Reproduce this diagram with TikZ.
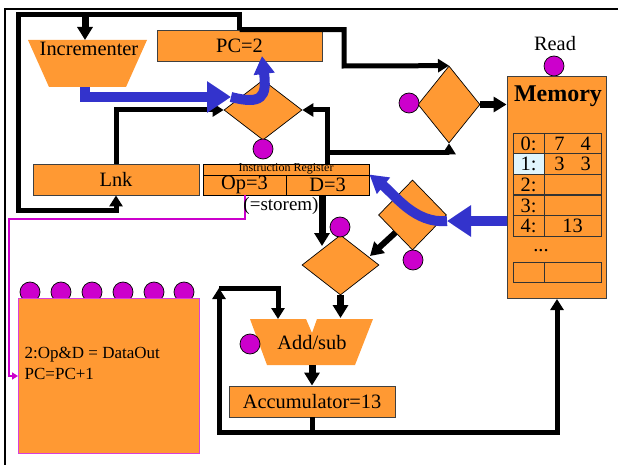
\documentclass[tikz,border=0pt]{standalone}
\usepackage{fontspec}
\setmainfont{Liberation Serif}
\usetikzlibrary{arrows.meta, shapes.geometric}

\definecolor{boxorange}{HTML}{FF9933}
\definecolor{ctrlpurple}{HTML}{CC00CC}
\definecolor{flowblue}{HTML}{3333CC}

\tikzset{
    box/.style={rectangle, draw=black!75, fill=boxorange, line width=0.9pt, inner sep=0pt},
    memcell/.style={rectangle, draw=black!80, line width=0.9pt, inner sep=0pt, minimum height=20.5pt},
    mux/.style={diamond, draw=black, fill=boxorange, line width=0.7pt, inner sep=0pt},
    ctrl/.style={circle, draw=black, fill=ctrlpurple, line width=0.7pt, inner sep=0pt, minimum size=20pt},
    wire/.style={line width=5pt, -{Triangle[width=13pt,length=11pt]}},
    plainwire/.style={line width=5pt},
    fatwire/.style={line width=7pt, -{Triangle[width=15pt,length=13pt]}},
    flow/.style={flowblue, line width=10pt, -{Triangle[width=30pt,length=24pt]}},
    bendflow/.style={flowblue, line width=10pt, -{Triangle[width=20pt,length=18pt]}},
}

\begin{document}
\begin{tikzpicture}[x=1pt, y=-1pt, every node/.style={font=\fontsize{20.4}{22}\selectfont}]
    \useasboundingbox (0,0) rectangle (618,465);

    % frame
    \draw[line width=2.2pt] (5,465) -- (5,9) -- (618,9);

    % Incrementer and PC
    \fill[boxorange] (28,40) -- (147,40) -- (126,87) -- (49,87) -- cycle;
    \node (incrText) at (89,49) {Incrementer};
    \node[box, minimum width=165pt, minimum height=31pt] (pc) at (239.5,45.5) {PC=2};

    % Muxes
    \node[mux, minimum width=78pt, minimum height=60pt] (pcmux) at (263,110) {};
    \node[mux, minimum width=62pt, minimum height=77pt] (memmux) at (449,104.5) {};
    \node[mux, minimum width=77pt, minimum height=60pt] (opmux) at (340.5,265) {};
    \node[mux, minimum width=68pt, minimum height=70pt] (datamux) at (412.5,215) {};

    % Lnk and instruction register
    \node[box, minimum width=166pt, minimum height=31pt] (lnk) at (116,179.5) {Lnk};
    \node[box, draw=black, minimum width=166pt, text height=8pt, text depth=3pt, font=\fontsize{12}{12}\selectfont] (irTitle) at (286,169.5) {Instruction Register};
    \node[box, draw=black, minimum width=83pt, minimum height=20pt] (op) at (244.5,185) {Op=3};
    \node[box, draw=black, minimum width=83pt, minimum height=20pt] (dd) at (327.5,185) {D=3};

    % Memory
    \node[ctrl] (readCtrl) at (554,66) {};
    \node (readText) at (555,44) {Read};
    \node[box, minimum width=99pt, minimum height=222pt] (mem) at (556.5,187) {};
    \node[font=\fontsize{24}{26}\bfseries] (memText) at (558,96) {Memory};
    \node[memcell, minimum width=31pt] (addr0) at (528.5,143.5) {0:};
    \node[memcell, minimum width=57pt] (data0) at (572.5,143.5) {7\hspace{16pt}4};
    \node[memcell, minimum width=31pt, fill=cyan!12] (addr1) at (528.5,164) {1:};
    \node[memcell, minimum width=57pt] (data1) at (572.5,164) {3\hspace{16pt}3};
    \node[memcell, minimum width=31pt] (addr2) at (528.5,184.5) {2:};
    \node[memcell, minimum width=57pt] (data2) at (572.5,184.5) {};
    \node[memcell, minimum width=31pt] (addr3) at (528.5,205.5) {3:};
    \node[memcell, minimum width=57pt] (data3) at (572.5,205.5) {};
    \node[memcell, minimum width=31pt] (addr4) at (528.5,226) {4:};
    \node[memcell, minimum width=57pt] (data4) at (572.5,226) {13};
    \node (dots) at (541,251) {...};
    \node[memcell, minimum width=31pt] (addrN) at (528.5,272.5) {};
    \node[memcell, minimum width=57pt] (dataN) at (572.5,272.5) {};

    % Add/sub
    \fill[boxorange] (250,319) -- (306,319) -- (312,333) -- (317,319) -- (373,319) -- (355,365) -- (267,365) -- cycle;
    \node (addsub) at (312,343) {Add/sub};
    \node[box, minimum width=166pt, minimum height=31pt] (acc) at (312,401.5) {Accumulator=13};

    % Control circles
    \node[ctrl] (pcCtrl) at (263,149) {};
    \node[ctrl] (memCtrl) at (409,103) {};
    \node[ctrl] (opCtrl) at (340,227) {};
    \node[ctrl] (dataCtrl) at (413,260) {};
    \node[ctrl] (addCtrl) at (250,344) {};

    % Control unit
    \node[ctrl] (c1) at (30,292) {};
    \node[ctrl] (c2) at (61,292) {};
    \node[ctrl] (c3) at (92,292) {};
    \node[ctrl] (c4) at (123,292) {};
    \node[ctrl] (c5) at (154,292) {};
    \node[ctrl] (c6) at (184,292) {};
    \node[rectangle, draw=ctrlpurple!75, fill=boxorange, line width=1pt, inner sep=0pt, minimum width=181pt, minimum height=155pt] (ctrlBox) at (108.5,375.5) {};
    \node[anchor=west, align=left, inner sep=0pt, font=\fontsize{17}{21}\selectfont] (ctrlText) at (24.5,363.5) {2:Op\&D = DataOut\\PC=PC+1};

    % Points on the wires
    \coordinate (topLeft) at (18,15);
    \coordinate (lnkCorner) at (116,210);
    \coordinate (incrTap) at (85,15);
    \coordinate (incrIn) at (85,40);
    \coordinate (pcCorner) at (344,66);
    \coordinate (irTap) at (327,164);
    \coordinate (memTap) at (327,153);
    \coordinate (irOut) at (322,195);
    \coordinate (opIn) at (322,246);
    \coordinate (dataOut) at (370,256);
    \coordinate (addIn) at (340.5,318);
    \coordinate (addOut) at (312,365);
    \coordinate (addLoop) at (278,319);
    \coordinate (accTap) at (312,432);
    \coordinate (loopCorner) at (219,288);
    \coordinate (memIn) at (557,299);
    \coordinate (ctrlCorner) at (9,219);
    \coordinate (ctrlIn) at (18,376);

    % Black wires
    \draw[wire] (pc.north) |- (topLeft) |- (lnkCorner) -- (lnk.south);
    \draw[fatwire] (incrTap) -- (incrIn);
    \draw[wire] (pc.north) -| (pcCorner) -- (memmux.north);
    \draw[wire] (lnk.north) |- (pcmux.west);
    \draw[wire] (irTap) |- (pcmux.east);
    \draw[wire] (memTap) -| (memmux.south);
    \draw[fatwire] (memmux.east) -- (mem.west |- memmux.east);
    \draw[fatwire] (irOut) -- (opIn);
    \draw[line width=6pt, -{Triangle[width=15pt,length=13pt]}] (datamux.south west) -- (dataOut);
    \draw[fatwire] (opmux.south) -- (addIn);
    \draw[fatwire] (addOut) -- (acc.north);
    \draw[plainwire] (acc.south) -- (accTap);
    \draw[wire] (accTap) -| (loopCorner);
    \draw[wire] (loopCorner) -| (addLoop);
    \draw[wire] (accTap) -| (memIn);

    % Control wire
    \draw[ctrlpurple, line width=2pt, -{Triangle[width=7pt,length=6pt]}] (op.south) |- (ctrlCorner) |- (ctrlIn);
    \node (storem) at (281,206) [font=\fontsize{19}{21}\selectfont] {(=storem)};

    % Blue flows
    \coordinate (incrOut) at (85,87);
    \coordinate (incrBend) at (85,97);
    \coordinate (flowEnd) at (231,97);
    \coordinate (pcIn) at (262,56);
    \coordinate (memOut) at (507,221);
    \coordinate (dataIn) at (447,221);
    \draw[flow] (incrOut) -- (incrBend) -- (flowEnd);
    \draw[bendflow] (flowEnd) .. controls (262,105) and (267,97) .. (pcIn);
    \draw[flow] (memOut) -- (dataIn);
    \draw[bendflow] (dataIn) .. controls (415,224) and (395,195) .. (dd.north east);

\end{tikzpicture}
\end{document}
